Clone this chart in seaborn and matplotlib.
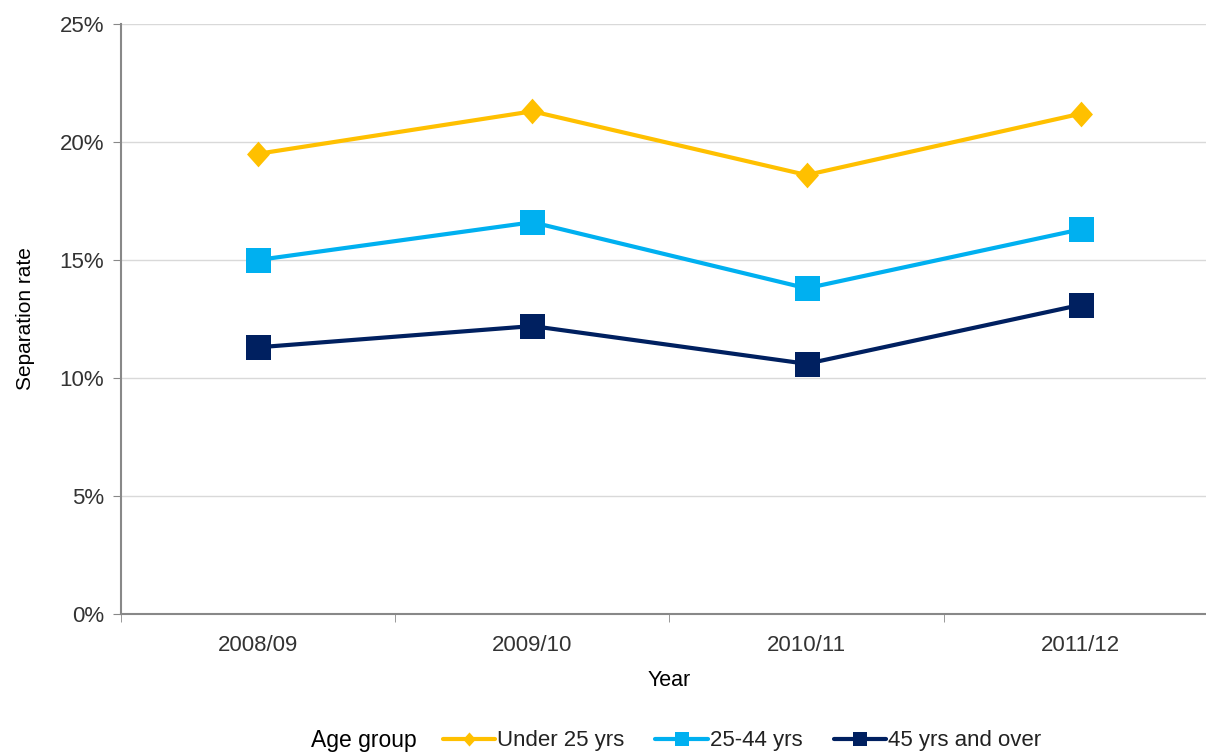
import pandas as pd
import matplotlib.pyplot as plt
import seaborn as sns
from matplotlib.ticker import PercentFormatter

# data (separation rate, %)
years = ['2008/09', '2009/10', '2010/11', '2011/12']
under_25 = [19.5, 21.3, 18.6, 21.2]
age_25_44 = [15.0, 16.6, 13.8, 16.3]
age_45_over = [11.3, 12.2, 10.6, 13.1]

groups = ['Under 25 yrs', '25-44 yrs', '45 yrs and over']
colors = ['#FFC000', '#00B0F0', '#002060']
# slightly tall diamond for the youngest group, squares for the others
diamond = [(0, 1.12), (1, 0), (0, -1.12), (-1, 0), (0, 1.12)]
markers = [diamond, 's', 's']
marker_sizes = [18.5, 18, 18]

df = pd.DataFrame({
    'Year': years * 3,
    'Rate': under_25 + age_25_44 + age_45_over,
    'Age group': [g for g in groups for _ in years],
})

sns.set_style('white')
plt.rcParams['font.family'] = ['Liberation Sans', 'DejaVu Sans']

fig = plt.figure(figsize=(12.06, 7.54), dpi=100)
ax = fig.add_axes([0.1003, 0.1857, 0.9096, 0.7825])

for g, c, m, ms in zip(groups, colors, markers, marker_sizes):
    sns.lineplot(data=df[df['Age group'] == g], x='Year', y='Rate', ax=ax,
                 color=c, marker=m, markersize=ms, markeredgewidth=0,
                 linewidth=3, label=g, sort=False, errorbar=None)

ax.set_xlim(-0.5, 3.5)
ax.set_ylim(0, 25)
ax.set_yticks([0, 5, 10, 15, 20, 25])
ax.yaxis.set_major_formatter(PercentFormatter(decimals=0))
ax.grid(axis='y', color='#D9D9D9', linewidth=1)
ax.set_axisbelow(True)

# tick marks sit between the categories on the x axis
ax.set_xticks([0, 1, 2, 3])
ax.set_xticks([-0.5, 0.5, 1.5, 2.5], minor=True)
ax.tick_params(axis='x', which='major', length=0, labelsize=16, pad=15, labelcolor='#333333')
ax.tick_params(axis='x', which='minor', length=6, color='#888888', direction='out', bottom=True)
ax.tick_params(axis='y', length=6, color='#888888', direction='out', left=True, labelsize=16,
               labelcolor='#333333', pad=6)

for side in ['top', 'right']:
    ax.spines[side].set_visible(False)
for side in ['left', 'bottom']:
    ax.spines[side].set_color('#888888')
    ax.spines[side].set_linewidth(1.5)

ax.set_xlabel('Year', fontsize=15.5, labelpad=10, color='black')
ax.set_ylabel('Separation rate', fontsize=15, labelpad=18, color='black')

handles, labels = ax.get_legend_handles_labels()
ax.get_legend().remove()
fig.text(0.258, 0.0175, 'Age group', fontsize=16.5, ha='left', va='center', color='black')
fig.legend(handles, labels, loc='center left', bbox_to_anchor=(0.367, 0.0175), ncol=3,
           frameon=False, fontsize=16, handlelength=2.35, handletextpad=0.1,
           columnspacing=1.4, markerscale=0.55, borderaxespad=0, borderpad=0,
           labelcolor='#222222')

fig.savefig('out.png', dpi=100)
